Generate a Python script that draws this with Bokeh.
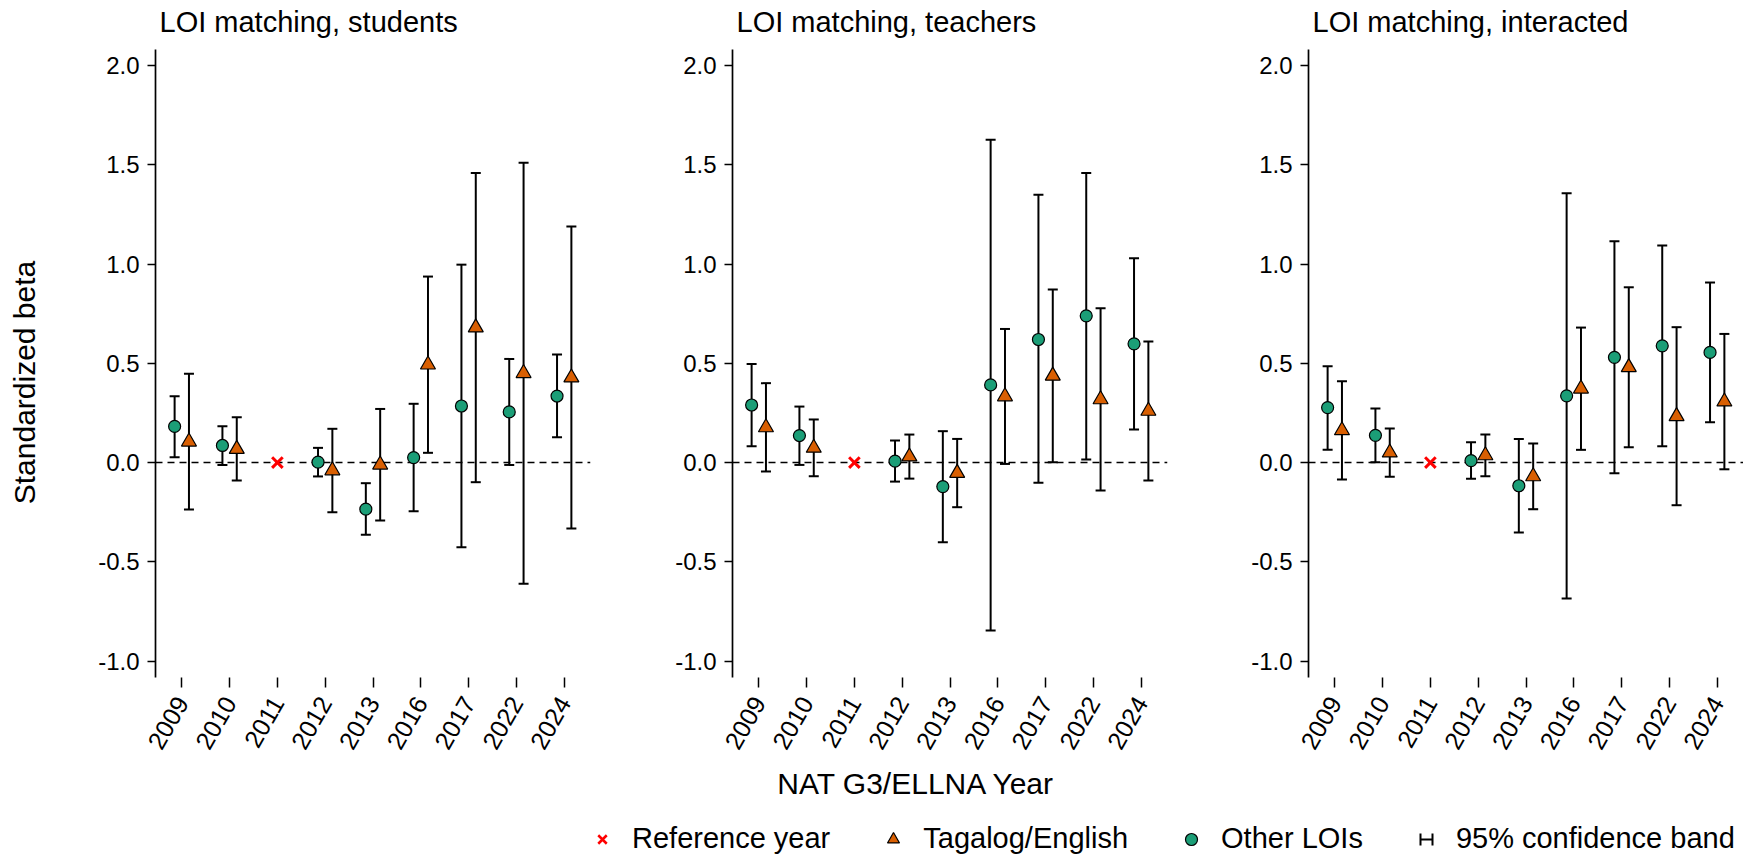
import math
import numpy as np
from bokeh.plotting import figure
from bokeh.models import (Range1d, FixedTicker, PrintfTickFormatter, Span, Whisker, TeeHead,
                          ColumnDataSource, Label, Legend, LegendItem)
from bokeh.layouts import row, column
from bokeh.embed import file_html
from bokeh.resources import INLINE

# ---------------- data ----------------
years = ["2009", "2010", "2011", "2012", "2013", "2016", "2017", "2022", "2024"]
ref_year = "2011"
panel_titles = ["LOI matching, students", "LOI matching, teachers", "LOI matching, interacted"]
y_ticks = [-1.0, -0.5, 0.0, 0.5, 1.0, 1.5, 2.0]
nan = float("nan")

# Panel 1: students
stu_other_pt = [0.182, 0.086, nan, 0.002, -0.235, 0.025, 0.285, 0.255, 0.335]
stu_other_lo = [0.027, -0.012, nan, -0.070, -0.364, -0.245, -0.427, -0.012, 0.128]
stu_other_hi = [0.334, 0.183, nan, 0.074, -0.104, 0.296, 0.997, 0.522, 0.544]
stu_tag_pt = [0.105, 0.068, nan, -0.040, -0.011, 0.493, 0.680, 0.450, 0.428]
stu_tag_lo = [-0.237, -0.091, nan, -0.250, -0.292, 0.049, -0.099, -0.611, -0.332]
stu_tag_hi = [0.447, 0.228, nan, 0.170, 0.270, 0.937, 1.459, 1.510, 1.189]

# Panel 2: teachers
tea_other_pt = [0.290, 0.136, nan, 0.007, -0.121, 0.391, 0.620, 0.739, 0.598]
tea_other_lo = [0.082, -0.012, nan, -0.096, -0.401, -0.846, -0.102, 0.015, 0.166]
tea_other_hi = [0.497, 0.282, nan, 0.111, 0.158, 1.626, 1.349, 1.459, 1.029]
tea_tag_pt = [0.177, 0.074, nan, 0.030, -0.053, 0.333, 0.437, 0.318, 0.260]
tea_tag_lo = [-0.045, -0.069, nan, -0.081, -0.225, -0.007, 0.002, -0.141, -0.091]
tea_tag_hi = [0.400, 0.217, nan, 0.141, 0.119, 0.673, 0.872, 0.777, 0.610]

# Panel 3: interacted
int_other_pt = [0.277, 0.137, nan, 0.010, -0.117, 0.336, 0.530, 0.588, 0.555]
int_other_lo = [0.065, 0.002, nan, -0.082, -0.353, -0.685, -0.054, 0.082, 0.203]
int_other_hi = [0.485, 0.272, nan, 0.102, 0.119, 1.357, 1.115, 1.093, 0.907]
int_tag_pt = [0.162, 0.050, nan, 0.036, -0.070, 0.372, 0.480, 0.233, 0.307]
int_tag_lo = [-0.086, -0.071, nan, -0.069, -0.235, 0.064, 0.077, -0.215, -0.034]
int_tag_hi = [0.410, 0.171, nan, 0.141, 0.096, 0.680, 0.883, 0.682, 0.648]

panels = [
    (stu_other_pt, stu_other_lo, stu_other_hi, stu_tag_pt, stu_tag_lo, stu_tag_hi),
    (tea_other_pt, tea_other_lo, tea_other_hi, tea_tag_pt, tea_tag_lo, tea_tag_hi),
    (int_other_pt, int_other_lo, int_other_hi, int_tag_pt, int_tag_lo, int_tag_hi),
]

# ---------------- style / layout ----------------
FONT = "Liberation Sans"
GREEN = "#1b9e77"
ORANGE = "#d95f02"
FRAME_W, FRAME_H = 435, 628
TOP_H = 49          # strip with panel titles
LEFT_W = 60         # strip with y-axis title
BOTTOM = 81
borders = [(155 - LEFT_W, 20), (122, 20), (121, 0)]
DODGE = 0.15
TICK_FS = "24px"
XTICK_FS = "25px"
SUB_FS = "29px"
AX_FS = "30px"
TOTAL_W = LEFT_W + sum(b[0] + FRAME_W + b[1] for b in borders)
BASE_FIX = 10.5     # alphabetic baseline correction observed for Label

idx = np.arange(1, len(years) + 1)


def strip(width, height):
    s = figure(width=width, height=height, x_range=Range1d(0, 1), y_range=Range1d(0, 1),
               output_backend="svg", toolbar_location=None, x_axis_type=None, y_axis_type=None,
               min_border_left=0, min_border_right=0, min_border_top=0, min_border_bottom=0)
    s.grid.visible = False
    s.outline_line_color = None
    return s


def series_source(pos, pt, lo, hi):
    pt = np.array(pt, dtype=float)
    m = ~np.isnan(pt)
    return ColumnDataSource(dict(x=pos[m], y=pt[m], lo=np.array(lo)[m], hi=np.array(hi)[m]))


def make_panel(k):
    o_pt, o_lo, o_hi, t_pt, t_lo, t_hi = panels[k]
    bl, br = borders[k]
    p = figure(width=bl + FRAME_W + br, height=FRAME_H + BOTTOM,
               x_range=Range1d(0.45, len(years) + 0.55), y_range=Range1d(-1.083, 2.081),
               output_backend="svg", toolbar_location=None,
               min_border_left=bl, min_border_right=br, min_border_top=0, min_border_bottom=BOTTOM)
    p.grid.visible = False
    p.outline_line_color = None

    zero = Span(location=0, dimension="width", line_color="black", line_width=1.6, line_dash="7 5",
                level="underlay")
    p.add_layout(zero)

    src_o = series_source(idx - DODGE, o_pt, o_lo, o_hi)
    src_t = series_source(idx + DODGE, t_pt, t_lo, t_hi)
    for src in (src_o, src_t):
        w = Whisker(source=src, base="x", lower="lo", upper="hi", dimension="height",
                    line_color="black", line_width=2, level="underlay",
                    upper_head=TeeHead(size=10, line_width=2, line_color="black"),
                    lower_head=TeeHead(size=10, line_width=2, line_color="black"))
        p.add_layout(w)

    ref_src = ColumnDataSource(dict(x=[idx[years.index(ref_year)]], y=[0.0]))
    p.scatter("x", "y", source=ref_src, marker="x", size=15, line_color="red", line_width=3)
    p.scatter("x", "y", source=src_t, marker="triangle", size=15, fill_color=ORANGE,
              line_color="black", line_width=1.2)
    p.scatter("x", "y", source=src_o, marker="circle", size=12, fill_color=GREEN,
              line_color="black", line_width=1.2)

    ya = p.yaxis[0]
    ya.ticker = FixedTicker(ticks=y_ticks)
    ya.formatter = PrintfTickFormatter(format="%.1f")
    ya.major_label_text_font = FONT
    ya.major_label_text_font_size = TICK_FS
    ya.major_label_text_color = "black"
    ya.axis_line_width = 1.7
    ya.axis_line_color = "black"
    ya.major_tick_line_width = 1.5
    ya.major_tick_out = 8
    ya.major_tick_in = 0
    ya.minor_tick_out = 0
    ya.minor_tick_in = 0
    ya.major_label_standoff = 8

    xa = p.xaxis[0]
    xa.ticker = FixedTicker(ticks=list(idx))
    xa.major_label_overrides = {int(i): y for i, y in zip(idx, years)}
    xa.axis_line_color = None
    xa.major_tick_line_width = 1.5
    xa.major_tick_line_color = "black"
    xa.major_tick_out = 10
    xa.major_tick_in = 0
    xa.minor_tick_out = 0
    xa.minor_tick_in = 0
    xa.major_label_orientation = math.radians(60)
    xa.major_label_text_font = FONT
    xa.major_label_text_font_size = XTICK_FS
    xa.major_label_text_color = "black"
    xa.major_label_standoff = 11
    return p


p1, p2, p3 = [make_panel(k) for k in range(3)]

# ---------------- top strip: panel titles ----------------
ptop = strip(TOTAL_W, TOP_H)
frame_lefts = []
acc = LEFT_W
for bl, br in borders:
    frame_lefts.append(acc + bl)
    acc += bl + FRAME_W + br
for k in range(3):
    ptop.add_layout(Label(x=frame_lefts[k] + 4, y=TOP_H - 31.5 + BASE_FIX, x_units="screen",
                          y_units="screen", text=panel_titles[k], text_font=FONT,
                          text_font_size=SUB_FS, text_color="black", text_align="left",
                          text_baseline="alphabetic"))

# ---------------- left strip: y-axis title ----------------
# (its frame is aligned with the panels' frames, so y is measured from the frame bottom)
pleft = strip(LEFT_W, FRAME_H + BOTTOM)
pleft.add_layout(Label(x=34 - BASE_FIX, y=FRAME_H - (382 - TOP_H), x_units="screen",
                       y_units="screen", text="Standardized beta", angle=math.pi / 2,
                       text_font=FONT, text_font_size=AX_FS, text_color="black",
                       text_align="center", text_baseline="alphabetic"))

# ---------------- bottom strip: x title and legend ----------------
LEG_H = 100
pleg = strip(TOTAL_W, LEG_H)
bottom_page = TOP_H + FRAME_H + BOTTOM + LEG_H
pleg.add_layout(Label(x=916, y=bottom_page - 793 + BASE_FIX, x_units="screen", y_units="screen",
                      text="NAT G3/ELLNA Year", text_font=FONT, text_font_size=AX_FS,
                      text_color="black", text_align="center", text_baseline="alphabetic"))

dummy = dict(x=[nan], y=[nan])
r_ref = pleg.scatter(x="x", y="y", source=ColumnDataSource(dummy), marker="x",
                     line_color="red", line_width=2.5)
r_tag = pleg.scatter(x="x", y="y", source=ColumnDataSource(dummy), marker="triangle",
                     fill_color=ORANGE, line_color="black", line_width=1.2)
r_oth = pleg.scatter(x="x", y="y", source=ColumnDataSource(dummy), marker="circle",
                     fill_color=GREEN, line_color="black", line_width=1.2)
r_ci_bar = pleg.scatter(x="x", y="y", source=ColumnDataSource(dummy), marker="dash",
                        line_color="black", line_width=2)
r_ci_caps = pleg.scatter(x="x", y="y", source=ColumnDataSource(dummy), marker="square",
                         fill_color=None, line_color="black", line_width=2,
                         line_dash="0 12 12 12 12 0")

legend = Legend(items=[LegendItem(label="Reference year", renderers=[r_ref]),
                       LegendItem(label="Tagalog/English", renderers=[r_tag]),
                       LegendItem(label="Other LOIs", renderers=[r_oth]),
                       LegendItem(label="95% confidence band", renderers=[r_ci_bar, r_ci_caps])],
                orientation="horizontal", location=(587, 3), glyph_width=30, glyph_height=30,
                label_standoff=15, spacing=48, padding=0, margin=0,
                border_line_alpha=0, background_fill_alpha=0,
                label_text_font=FONT, label_text_font_size=SUB_FS, label_text_color="black")
pleg.add_layout(legend, "center")

layout = column(ptop, row(pleft, p1, p2, p3), pleg)
open("out.html", "w").write(file_html(layout, INLINE))
